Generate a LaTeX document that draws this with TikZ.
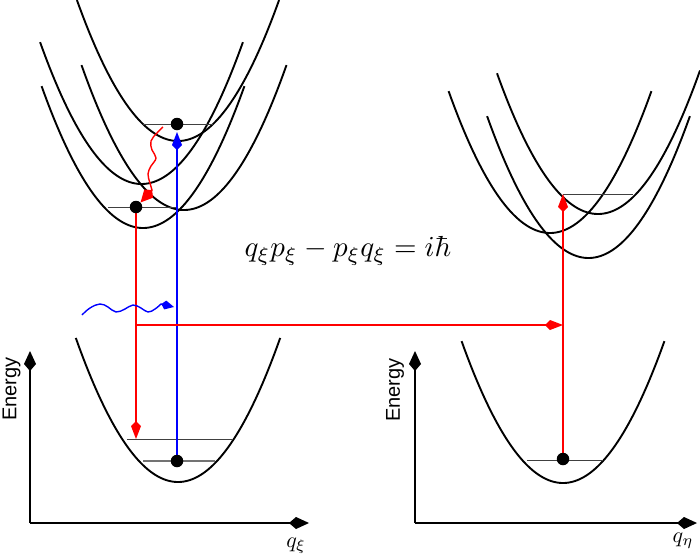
\documentclass[tikz,border=0pt]{standalone}
\usepackage{fontspec}
\newfontfamily\arialfont{Liberation Sans}
\usetikzlibrary{arrows.meta}
\begin{document}
\begin{tikzpicture}[x=1pt,y=-1pt,
  curve/.style={line width=1.9pt, black},
  level/.style={line width=0.9pt, black!75},
  gslevel/.style={line width=1.8pt, black!55},
  dot/.style={circle, fill=black, inner sep=0pt, minimum size=12.5pt},
  redline/.style={line width=1.6pt, red},
  blueline/.style={line width=1.6pt, blue},
  kitetip/.style={-{Kite[length=18pt,width=10pt,inset=5pt]}},
  axis/.style={line width=1.6pt, -{Kite[length=20pt,width=12pt,inset=7pt]}},
  elabel/.style={font=\arialfont\fontsize{20}{24}\selectfont, rotate=90, inner sep=0pt},
  qlabel/.style={scale=2.2, inner sep=0pt}
]
\useasboundingbox (0,0) rectangle (700,558);
\def\kcurv{0.0138}
% ---- upper-left potential surfaces
\draw[curve] plot[domain=76.9:279.1, samples=80] (\x, {141 - \kcurv*(\x-178)^2});
\draw[curve] plot[domain=40.1:242.9, samples=80] (\x, {184 - \kcurv*(\x-141.5)^2});
\draw[curve] plot[domain=81.5:286.5, samples=80] (\x, {210 - \kcurv*(\x-184)^2});
\draw[curve] plot[domain=41.6:244.4, samples=80] (\x, {228 - \kcurv*(\x-143)^2});
% ---- lower-left
\draw[curve] plot[domain=75.8:280.2, samples=80] (\x, {482 - \kcurv*(\x-178)^2});
% ---- upper-right
\draw[curve] plot[domain=448.6:651.4, samples=80] (\x, {233 - \kcurv*(\x-550)^2});
\draw[curve] plot[domain=497:700, samples=80] (\x, {214 - \kcurv*(\x-598)^2});
\draw[curve] plot[domain=487.1:689.9, samples=80] (\x, {258 - \kcurv*(\x-588.5)^2});
% ---- lower-right
\draw[curve] plot[domain=461.6:664.4, samples=80] (\x, {483 - \kcurv*(\x-563)^2});

% ---- levels
\draw[level] (143,124) -- (213,124);
\draw[level] (108,207) -- (177,207);
\draw[level] (127,439) -- (232,439);
\draw[gslevel] (143,461) -- (215,461);
\draw[level] (563,194) -- (633,194);
\draw[level] (527,460) -- (603,460);

% ---- axes
\coordinate (lo) at (30,523);
\coordinate (ly) at (30,351);
\coordinate (lx) at (309,523);
\draw[axis] (lo) -- (ly);
\draw[axis] (lo) -- (lx);
\coordinate (ro) at (415,523);
\coordinate (ry) at (415,351);
\coordinate (rx) at (697,523);
\draw[axis] (ro) -- (ry);
\draw[axis] (ro) -- (rx);
\node[elabel] (e1) at (11.5,389) {Energy};
\node[elabel] (e2) at (395,390) {Energy};
\node[qlabel] (q1) at (296,546) {$q_\xi$};
\node[qlabel] (q2) at (683,541) {$q_\eta$};

% ---- points and transitions
\coordinate (redtipdown) at (136,439);
\coordinate (redbranch) at (136,325);
\coordinate (redtipright) at (563,325);
\coordinate (redtipup) at (563,194);
\coordinate (bluetip) at (177,132);
\draw[blueline, kitetip] (177,461) -- (bluetip);
\draw[redline, kitetip] (136,207) -- (redtipdown);
\draw[redline, kitetip] (redbranch) -- (redtipright);
\draw[redline, kitetip] (563,459) -- (redtipup);

\node[dot] (s0) at (177,461) {};
\node[dot] (s2) at (177,124) {};
\node[dot] (s1) at (136,207) {};
\node[dot] (t0) at (563,459) {};

% wavy relaxation (red)
\draw[redline, line width=1.4pt, -{Kite[length=17pt,width=12pt,inset=5pt]}]
  plot[smooth, tension=0.7] coordinates {(163,127) (157,133) (151,141) (152,150) (156,158) (151,166) (148,174) (150,183) (152,190)} -- (s1.north east);

% wavy photon (blue)
\coordinate (photonend) at (174,307);
\draw[blueline, line width=1.4pt, -{Kite[length=13pt,width=9pt,inset=4pt]}]
  plot[smooth, tension=0.7] coordinates {(82,315) (90,308) (100,304) (108,307) (116,312) (125,309) (133,305) (141,308) (148,312) (155,309) (161,304)} -- (photonend);

% equation
\node[scale=2.9] (eq) at (348,251) {$q_\xi p_\xi - p_\xi q_\xi = i\hbar$};
\end{tikzpicture}
\end{document}
